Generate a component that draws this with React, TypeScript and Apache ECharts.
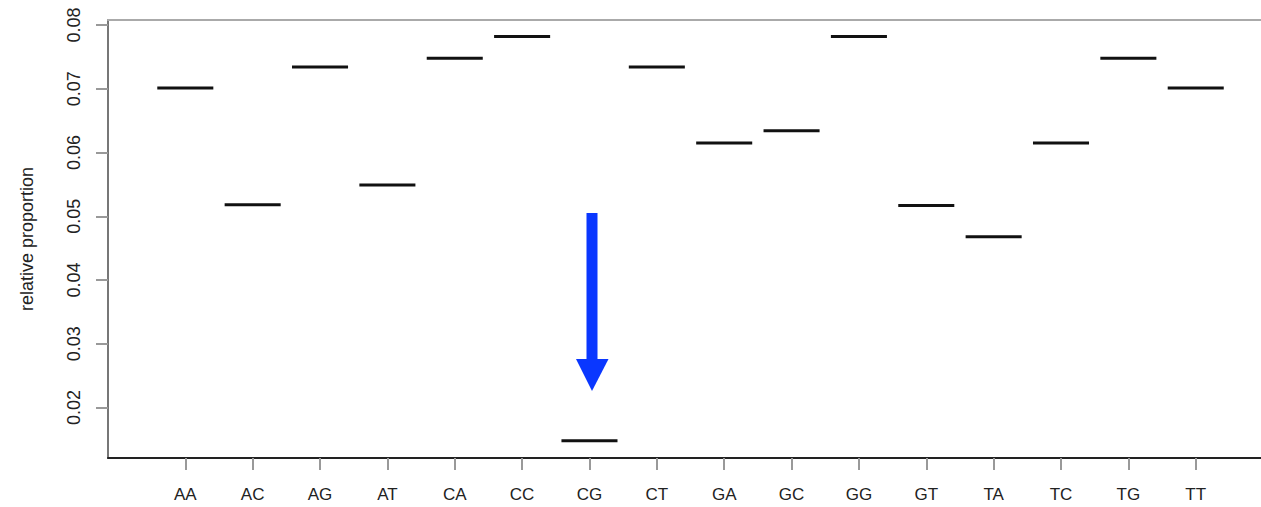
import React, { useEffect, useRef } from "react";
import * as echarts from "echarts";

const categories = ["AA","AC","AG","AT","CA","CC","CG","CT","GA","GC","GG","GT","TA","TC","TG","TT"];
const proportions = [0.0701,0.0518,0.0734,0.0549,0.0748,0.0782,0.0148,0.0734,0.0615,0.0634,0.0782,0.0517,0.0468,0.0615,0.0748,0.0701];
const yTicks = [0.02,0.03,0.04,0.05,0.06,0.07,0.08];
const xTicks = categories.map((_, i) => i + 1);
const yName = "relative proportion";

const HALF = 0.416;
const X_MIN = -0.1476;
const X_MAX = 16.969;
const FONT = "Liberation Sans, Arial, sans-serif";

export default function App() {
  const ref = useRef<HTMLDivElement>(null);
  useEffect(() => {
    document.body.style.margin = "0";
    const chart = echarts.init(ref.current!, undefined, { renderer: "svg" });
    chart.setOption({
      animation: false,
      backgroundColor: "#ffffff",
      grid: { left: 108, right: 0, top: 20, bottom: 49, show: false },
      xAxis: [
        {
          type: "value",
          min: X_MIN,
          max: X_MAX,
          splitLine: { show: false },
          axisLine: { show: true, onZero: false, lineStyle: { color: "#222", width: 2 } },
          axisTick: { show: true, customValues: xTicks, length: 12, lineStyle: { color: "#999", width: 2 } },
          axisLabel: {
            customValues: xTicks,
            formatter: (v: number) => categories[Math.round(v) - 1] ?? "",
            color: "#222", fontSize: 17, fontFamily: FONT, margin: 28,
          },
        },
        {
          type: "value",
          position: "top",
          min: X_MIN,
          max: X_MAX,
          splitLine: { show: false },
          axisLine: { show: true, onZero: false, lineStyle: { color: "#aaaaaa", width: 2 } },
          axisTick: { show: false },
          axisLabel: { show: false },
        },
      ],
      yAxis: {
        type: "value",
        min: 0.01209,
        max: 0.08078,
        name: yName,
        nameLocation: "middle",
        nameGap: 72,
        nameTextStyle: { color: "#222", fontSize: 18, fontFamily: FONT },
        splitLine: { show: false },
        axisLine: { show: true, onZero: false, lineStyle: { color: "#777", width: 2 } },
        axisTick: { show: true, customValues: yTicks, length: 12, lineStyle: { color: "#999", width: 2 } },
        axisLabel: {
          customValues: yTicks,
          rotate: 90,
          formatter: (v: number) => v.toFixed(2),
          color: "#222", fontSize: 18, fontFamily: FONT, margin: 25,
        },
      },
      series: [
        {
          type: "custom",
          xAxisIndex: 0,
          data: proportions.map((v, i) => [i + 1, v]),
          encode: { x: 0, y: 1 },
          renderItem: (params: any, api: any) => {
            const x = api.value(0);
            const y = api.value(1);
            const p1 = api.coord([x - HALF, y]);
            const p2 = api.coord([x + HALF, y]);
            return {
              type: "line",
              shape: { x1: p1[0], y1: p1[1], x2: p2[0], y2: p2[1] },
              style: { stroke: "#111", lineWidth: 3 },
            };
          },
        },
      ],
      graphic: [
        { type: "rect", shape: { x: 586.5, y: 213, width: 11, height: 147 }, style: { fill: "#0a37ff" } },
        { type: "polygon", shape: { points: [[576, 359], [608.5, 359], [592, 391]] }, style: { fill: "#0a37ff" } },
      ],
    });
    return () => chart.dispose();
  }, []);
  return <div ref={ref} style={{ width: 1261, height: 507 }} />;
}
